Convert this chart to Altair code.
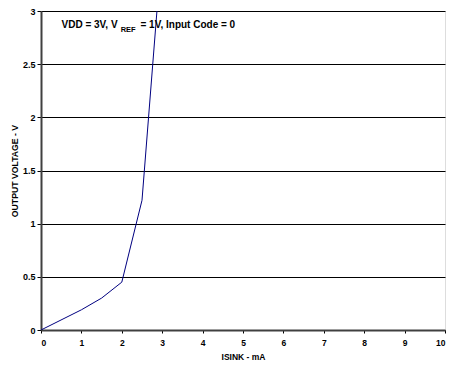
import altair as alt
import pandas as pd

isink_ma = [0.0, 1.0, 1.5, 2.0, 2.5, 2.87]
vout_v = [0.0, 0.19, 0.30, 0.45, 1.22, 3.0]
x_ticks = list(range(0, 11))
y_ticks = [0, 0.5, 1, 1.5, 2, 2.5, 3]

df = pd.DataFrame({"isink": isink_ma, "vout": vout_v})

FONT = "Liberation Sans"

line = alt.Chart(df).mark_line(color="#000080", strokeWidth=1, clip=True).encode(
    x=alt.X("isink:Q", scale=alt.Scale(domain=[0, 10], nice=False),
            axis=alt.Axis(values=x_ticks, title="ISINK - mA", grid=False, format="d",
                          labelFontSize=8.5, labelFontWeight="bold", labelFont=FONT,
                          labelColor="#000000", labelPadding=5, tickSize=3,
                          tickColor="#000000", domainColor="#404040", domainWidth=2,
                          titleFont=FONT, titleFontSize=8.5, titleFontWeight="bold",
                          titleColor="#000000", titleY=26, titleBaseline="middle")),
    y=alt.Y("vout:Q", scale=alt.Scale(domain=[0, 3], nice=False),
            axis=alt.Axis(values=y_ticks, title="OUTPUT VOLTAGE - V", grid=True,
                          labelExpr="'' + datum.value",
                          gridColor="#000000", gridWidth=1, gridOpacity=1,
                          labelFontSize=9, labelFontWeight="bold", labelFont=FONT,
                          labelColor="#000000", labelPadding=2, tickSize=4,
                          tickColor="#000000", domainColor="#404040", domainWidth=2,
                          titleFont=FONT, titleFontSize=8.7, titleFontWeight="bold",
                          titleColor="#000000",
                          titleX=-27, titleY=159.5, titleAngle=-90,
                          titleAlign="center", titleBaseline="middle")),
)

annot = pd.DataFrame({
    "t": ["VDD = 3V, V", "REF", "= 1V, Input Code = 0"],
    "px": [20.5, 79.7, 99.5],
    "py": [13.5, 19.0, 13.5],
    "fs": [10.0, 7.5, 10.0],
})

def txt(i):
    row = annot.iloc[i]
    return alt.Chart(pd.DataFrame({"t": [row.t]})).mark_text(
        align="left", baseline="middle", font=FONT, fontWeight="bold",
        fontSize=float(row.fs), color="#000000"
    ).encode(text="t:N", x=alt.value(float(row.px)), y=alt.value(float(row.py)))

chart = alt.layer(line, txt(0), txt(1), txt(2)).properties(
    width=404, height=319,
    autosize=alt.AutoSizeParams(type="none"),
    padding={"left": 41, "top": 11, "right": 4, "bottom": 38},
).configure_view(stroke="#606060", strokeWidth=2).configure(background="white")

chart.save("out.html", embed_options={"renderer": "svg", "actions": False})
